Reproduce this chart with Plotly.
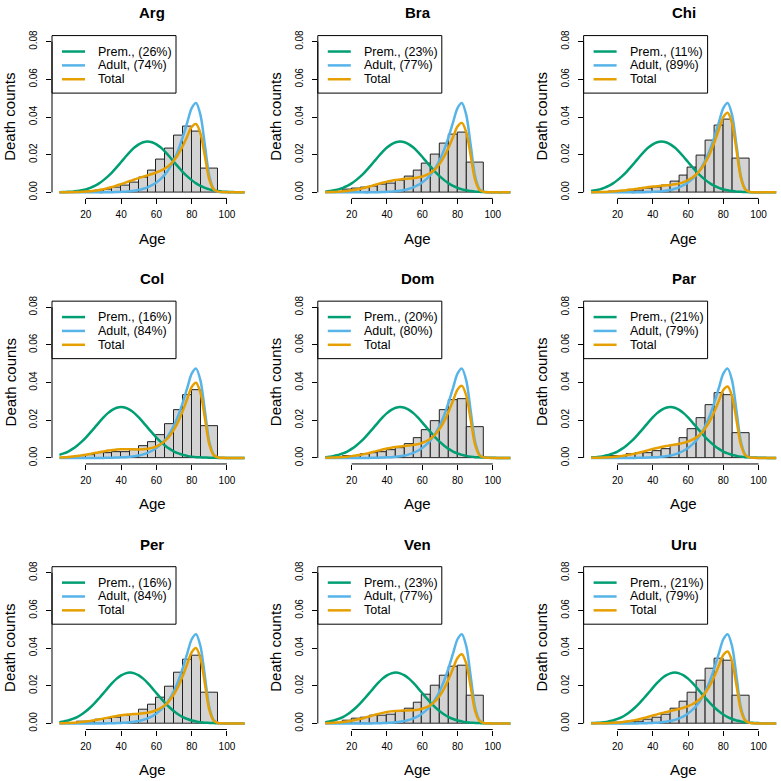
import plotly.graph_objects as go

# ---------------- data ----------------
COUNTRIES = ["Arg", "Bra", "Chi", "Col", "Dom", "Par", "Per", "Ven", "Uru"]
PREM_PCT = [26, 23, 11, 16, 20, 21, 16, 23, 21]
ADULT_PCT = [74, 77, 89, 84, 80, 79, 84, 77, 79]
PREM_MODE = [55, 47.5, 45, 40, 47.5, 50, 45, 45, 52.5]   # age of the premature peak

AGE_GRID = [5, 7.5, 10, 12.5, 15, 17.5, 20, 22.5, 25, 27.5, 30, 32.5, 35, 37.5,
            40, 42.5, 45, 47.5, 50, 52.5, 55, 57.5, 60, 62.5, 65, 67.5, 70, 72.5,
            75, 77.5, 80, 82.5, 85, 87.5, 90, 92.5, 95, 97.5, 100, 102.5, 105,
            107.5, 110]
ADULT_DENS = [0, 0, 0, 0, 0, 0, 0, 0, 0, 0, 0.0000, 0.0001, 0.0001, 0.0002,
              0.0003, 0.0004, 0.0006, 0.0009, 0.0013, 0.0019, 0.0027, 0.0038,
              0.0053, 0.0072, 0.0097, 0.0130, 0.0174, 0.0228, 0.0296, 0.0372,
              0.0447, 0.0474, 0.0410, 0.0250, 0.0085, 0.0017, 0.0003, 0.0001,
              0, 0, 0, 0, 0]

# premature component, read relative to its peak age (offset -50 ... +70, step 2.5)
PREM_OFFSET_START = -50
PREM_SHAPE = [0.0001, 0.0002, 0.0003, 0.0004, 0.0007, 0.0011, 0.0016, 0.0024,
              0.0034, 0.0048, 0.0065, 0.0085, 0.0108, 0.0134, 0.0161, 0.0189,
              0.0215, 0.0238, 0.0255, 0.0266, 0.0270, 0.0266, 0.0255, 0.0238,
              0.0215, 0.0189, 0.0161, 0.0134, 0.0108, 0.0085, 0.0065, 0.0048,
              0.0034, 0.0024, 0.0016, 0.0011, 0.0007, 0.0004, 0.0003, 0.0002,
              0.0001, 0.0001, 0.0000, 0, 0, 0, 0, 0, 0]

BIN_EDGES = [15, 20, 25, 30, 35, 40, 45, 50, 55, 60, 65, 70, 75, 80, 85, 95]
HIST = {
    "Arg": [0.0003, 0.0005, 0.0008, 0.0015, 0.0024, 0.0035, 0.0053, 0.0079, 0.0118, 0.0172, 0.0232, 0.0302, 0.0347, 0.0325, 0.0128],
    "Bra": [0.0015, 0.0021, 0.0026, 0.0032, 0.0040, 0.0049, 0.0065, 0.0084, 0.0116, 0.0154, 0.0200, 0.0258, 0.0307, 0.0316, 0.0158],
    "Chi": [0.0003, 0.0005, 0.0008, 0.0012, 0.0018, 0.0025, 0.0035, 0.0058, 0.0090, 0.0133, 0.0196, 0.0277, 0.0357, 0.0386, 0.0181],
    "Col": [0.0012, 0.0014, 0.0023, 0.0026, 0.0030, 0.0033, 0.0040, 0.0061, 0.0084, 0.0123, 0.0177, 0.0256, 0.0335, 0.0361, 0.0167],
    "Dom": [0.0008, 0.0011, 0.0018, 0.0023, 0.0032, 0.0040, 0.0054, 0.0074, 0.0104, 0.0146, 0.0195, 0.0256, 0.0307, 0.0314, 0.0163],
    "Par": [0.0008, 0.0012, 0.0019, 0.0023, 0.0028, 0.0035, 0.0049, 0.0070, 0.0107, 0.0151, 0.0212, 0.0282, 0.0344, 0.0335, 0.0130],
    "Per": [0.0009, 0.0012, 0.0018, 0.0025, 0.0030, 0.0040, 0.0049, 0.0072, 0.0100, 0.0139, 0.0195, 0.0268, 0.0339, 0.0358, 0.0161],
    "Ven": [0.0015, 0.0025, 0.0032, 0.0039, 0.0042, 0.0049, 0.0061, 0.0081, 0.0110, 0.0151, 0.0198, 0.0256, 0.0304, 0.0309, 0.0147],
    "Uru": [0.0003, 0.0005, 0.0009, 0.0012, 0.0021, 0.0032, 0.0046, 0.0077, 0.0114, 0.0165, 0.0226, 0.0291, 0.0342, 0.0332, 0.0146],
}

X_TICKS = [20, 40, 60, 80, 100]
Y_TICKS = [0, 0.02, 0.04, 0.06, 0.08]
Y_TICK_TEXT = ["0.00", "0.02", "0.04", "0.06", "0.08"]

GREEN, BLUE, ORANGE = "#009E73", "#56B4E9", "#E69F00"
FONT = "Liberation Sans, Arial, Helvetica, sans-serif"

# ---------------- layout geometry (pixels) ----------------
W = H = 781
COL_STEP, ROW_STEP = 265.8, 268.3
PX_PER_YEAR = 1.7637
X_LO = 0.8
Y_RANGE = [-0.0032, 0.0832]

fig = go.Figure()
shapes, annotations = [], []

def px(x):
    return x / W

def py(y):
    return 1 - y / H

centers = [(BIN_EDGES[i] + BIN_EDGES[i + 1]) / 2 for i in range(len(BIN_EDGES) - 1)]
widths = [BIN_EDGES[i + 1] - BIN_EDGES[i] for i in range(len(BIN_EDGES) - 1)]

for k, name in enumerate(COUNTRIES):
    r, c = divmod(k, 3)
    n = k + 1
    xa, ya = ("x" if n == 1 else f"x{n}"), ("y" if n == 1 else f"y{n}")
    ox, oy = c * COL_STEP, r * ROW_STEP
    left = ox + 52
    right = min(ox + 252, W)
    top, bottom = oy + 29.9, oy + 194.4
    x_hi = X_LO + (right - left) / PX_PER_YEAR

    w_p = PREM_PCT[k] / 100
    w_a = ADULT_PCT[k] / 100
    prem = []
    for a in AGE_GRID:
        idx = int(round((a - PREM_MODE[k] - PREM_OFFSET_START) / 2.5))
        prem.append(PREM_SHAPE[idx] if 0 <= idx < len(PREM_SHAPE) else 0.0)
    total = [w_p * p + w_a * d for p, d in zip(prem, ADULT_DENS)]

    fig.add_trace(go.Bar(x=centers, y=HIST[name], width=widths, xaxis=xa, yaxis=ya,
                         marker=dict(color="#D3D3D3", line=dict(color="#222222", width=1)),
                         showlegend=False, hoverinfo="skip"))
    for yv, col in ((prem, GREEN), (ADULT_DENS, BLUE), (total, ORANGE)):
        fig.add_trace(go.Scatter(x=AGE_GRID, y=yv, mode="lines", xaxis=xa, yaxis=ya,
                                 line=dict(color=col, width=2.5, shape="spline", smoothing=0.8),
                                 showlegend=False, hoverinfo="skip"))

    xkey = "xaxis" if n == 1 else f"xaxis{n}"
    ykey = "yaxis" if n == 1 else f"yaxis{n}"
    fig.update_layout(**{
        xkey: dict(domain=[px(left), px(right)], range=[X_LO, x_hi], anchor=ya,
                   tickmode="array", tickvals=X_TICKS, ticks="outside", ticklen=5,
                   tickcolor="#000", tickwidth=1, showline=False, showgrid=False,
                   zeroline=False, tickfont=dict(size=10, color="#000", family=FONT),
                   ticklabelstandoff=2),
        ykey: dict(domain=[py(bottom), py(top)], range=Y_RANGE, anchor=xa,
                   tickmode="array", tickvals=Y_TICKS, ticktext=Y_TICK_TEXT,
                   ticks="outside", ticklen=5, tickcolor="#000", tickwidth=1,
                   tickangle=-90, showline=False, showgrid=False, zeroline=False,
                   tickfont=dict(size=10, color="#000", family=FONT),
                   ticklabelstandoff=5),
    })

    # R-style axis lines (only between first and last tick)
    shapes.append(dict(type="line", xref=xa, yref=f"{ya} domain", x0=X_TICKS[0], x1=X_TICKS[-1],
                       y0=0, y1=0, line=dict(color="#000", width=1)))
    shapes.append(dict(type="line", xref=f"{xa} domain", yref=ya, x0=0, x1=0,
                       y0=Y_TICKS[0], y1=Y_TICKS[-1], line=dict(color="#000", width=1)))

    # legend box (top-left)
    shapes.append(dict(type="rect", xref="paper", yref="paper",
                       x0=px(ox + 52), x1=px(ox + 176), y0=py(oy + 88), y1=py(oy + 29.9),
                       line=dict(color="#000", width=1), fillcolor="rgba(255,255,255,0)"))
    labels = [f"Prem., ({PREM_PCT[k]}%)", f"Adult, ({ADULT_PCT[k]}%)", "Total"]
    for j, (lab, col) in enumerate(zip(labels, (GREEN, BLUE, ORANGE))):
        yy = oy + 46 + j * 14
        shapes.append(dict(type="line", xref="paper", yref="paper",
                           x0=px(ox + 62), x1=px(ox + 85), y0=py(yy), y1=py(yy),
                           line=dict(color=col, width=2.5)))
        annotations.append(dict(text=lab, xref="paper", yref="paper", x=px(ox + 96), y=py(yy),
                                xanchor="left", yanchor="middle", showarrow=False,
                                font=dict(size=12.5, color="#000", family=FONT)))

    annotations.append(dict(text=f"<b>{name}</b>", xref="paper", yref="paper",
                            x=px(ox + 152), y=py(oy + 7), xanchor="center", yanchor="middle",
                            showarrow=False, font=dict(size=15, color="#000", family=FONT)))
    annotations.append(dict(text="Age", xref="paper", yref="paper",
                            x=px(ox + 152), y=py(oy + 234.5), xanchor="center", yanchor="middle",
                            showarrow=False, font=dict(size=15, color="#000", family=FONT)))
    annotations.append(dict(text="Death counts", xref="paper", yref="paper",
                            x=px(ox + 10), y=py(oy + 112), xanchor="center", yanchor="middle",
                            textangle=-90, showarrow=False,
                            font=dict(size=15, color="#000", family=FONT)))

fig.update_layout(width=W, height=H, autosize=False, margin=dict(l=0, r=0, t=0, b=0),
                  paper_bgcolor="white", plot_bgcolor="white", shapes=shapes,
                  annotations=annotations, bargap=0, showlegend=False,
                  font=dict(family=FONT))

fig.write_html("out.html",
               config={"displayModeBar": False},
               post_script="document.body.style.margin='0px';"
                           "document.documentElement.style.overflow='hidden';")
